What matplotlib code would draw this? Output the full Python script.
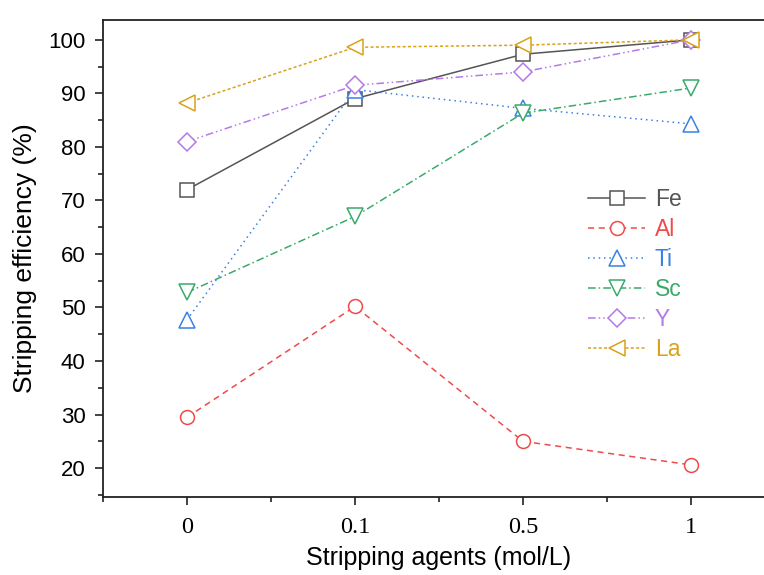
import matplotlib
matplotlib.use("Agg")
import matplotlib.pyplot as plt
from matplotlib.ticker import MultipleLocator, FixedLocator

categories = ["0", "0.1", "0.5", "1"]
fe = [72.0, 89.0, 97.3, 100.0]
al = [29.5, 50.2, 25.0, 20.6]
ti = [47.7, 90.7, 87.2, 84.3]
sc = [52.8, 67.0, 86.3, 91.0]
yy = [81.0, 91.5, 94.0, 100.0]
la = [88.2, 98.6, 99.0, 100.0]

series = [
    ("Fe", fe, "#555555", "-", "s"),
    ("Al", al, "#f04a4a", (0, (4, 3)), "o"),
    ("Ti", ti, "#3a80e6", (0, (1, 2.5)), "^"),
    ("Sc", sc, "#3aaa6a", (0, (5, 2, 1, 2)), "v"),
    ("Y", yy, "#b47ae8", (0, (5, 2, 1, 2, 1, 2)), "D"),
    ("La", la, "#d9a21a", (0, (2, 1.5)), "<"),
]

fig = plt.figure(figsize=(7.64, 5.75), dpi=100)
ax = fig.add_axes([103/764, 78/575, 672/764, 477/575])
x = list(range(len(categories)))
for name, vals, col, ls, mk in series:
    ms = 11
    if mk == "D":
        ms = 9
    if mk == "s":
        ms = 9.5
    if mk == "o":
        ms = 10
    ax.plot(x, vals, color=col, linestyle=ls, linewidth=1.1, marker=mk,
            markersize=ms, markerfacecolor="white", markeredgecolor=col,
            markeredgewidth=1.1, label=name)

ax.set_xlim(-0.5, 3.5)
ax.set_ylim(14.6, 103.7)
ax.set_xticks(x)
ax.set_xticklabels(categories, fontfamily="Liberation Serif", fontsize=17.5)
ax.xaxis.set_minor_locator(FixedLocator([-0.5, 0.5, 1.5, 2.5, 3.5]))
ax.yaxis.set_major_locator(MultipleLocator(10))
ax.yaxis.set_minor_locator(MultipleLocator(5))
for lab in ax.get_yticklabels():
    lab.set_fontfamily("Liberation Sans")
    lab.set_fontsize(16)
ax.tick_params(axis="both", which="major", direction="out", length=5.5, width=1.2, colors="#222222")
ax.tick_params(axis="both", which="minor", direction="out", length=3.5, width=1.2, colors="#222222")
ax.tick_params(axis="x", which="major", pad=9, labelcolor="black")
ax.tick_params(axis="y", which="major", pad=7, labelcolor="black")
ax.tick_params(top=False, right=False, which="both")
for s in ax.spines.values():
    s.set_linewidth(1.3)
    s.set_color("#222222")

ax.set_xlabel("Stripping agents (mol/L)", fontfamily="Liberation Sans", fontsize=18, labelpad=6)
ax.set_ylabel("Stripping efficiency (%)", fontfamily="Liberation Sans", fontsize=19, labelpad=8)

leg = ax.legend(loc="upper left", bbox_to_anchor=(0.722, 0.647), frameon=False,
                prop={"family": "Liberation Sans", "size": 16.5}, handlelength=2.5,
                labelspacing=0.3, handletextpad=0.4, borderpad=0, borderaxespad=0)
for txt, (name, vals, col, ls, mk) in zip(leg.get_texts(), series):
    txt.set_color(col)

fig.savefig("out.png", dpi=100)
